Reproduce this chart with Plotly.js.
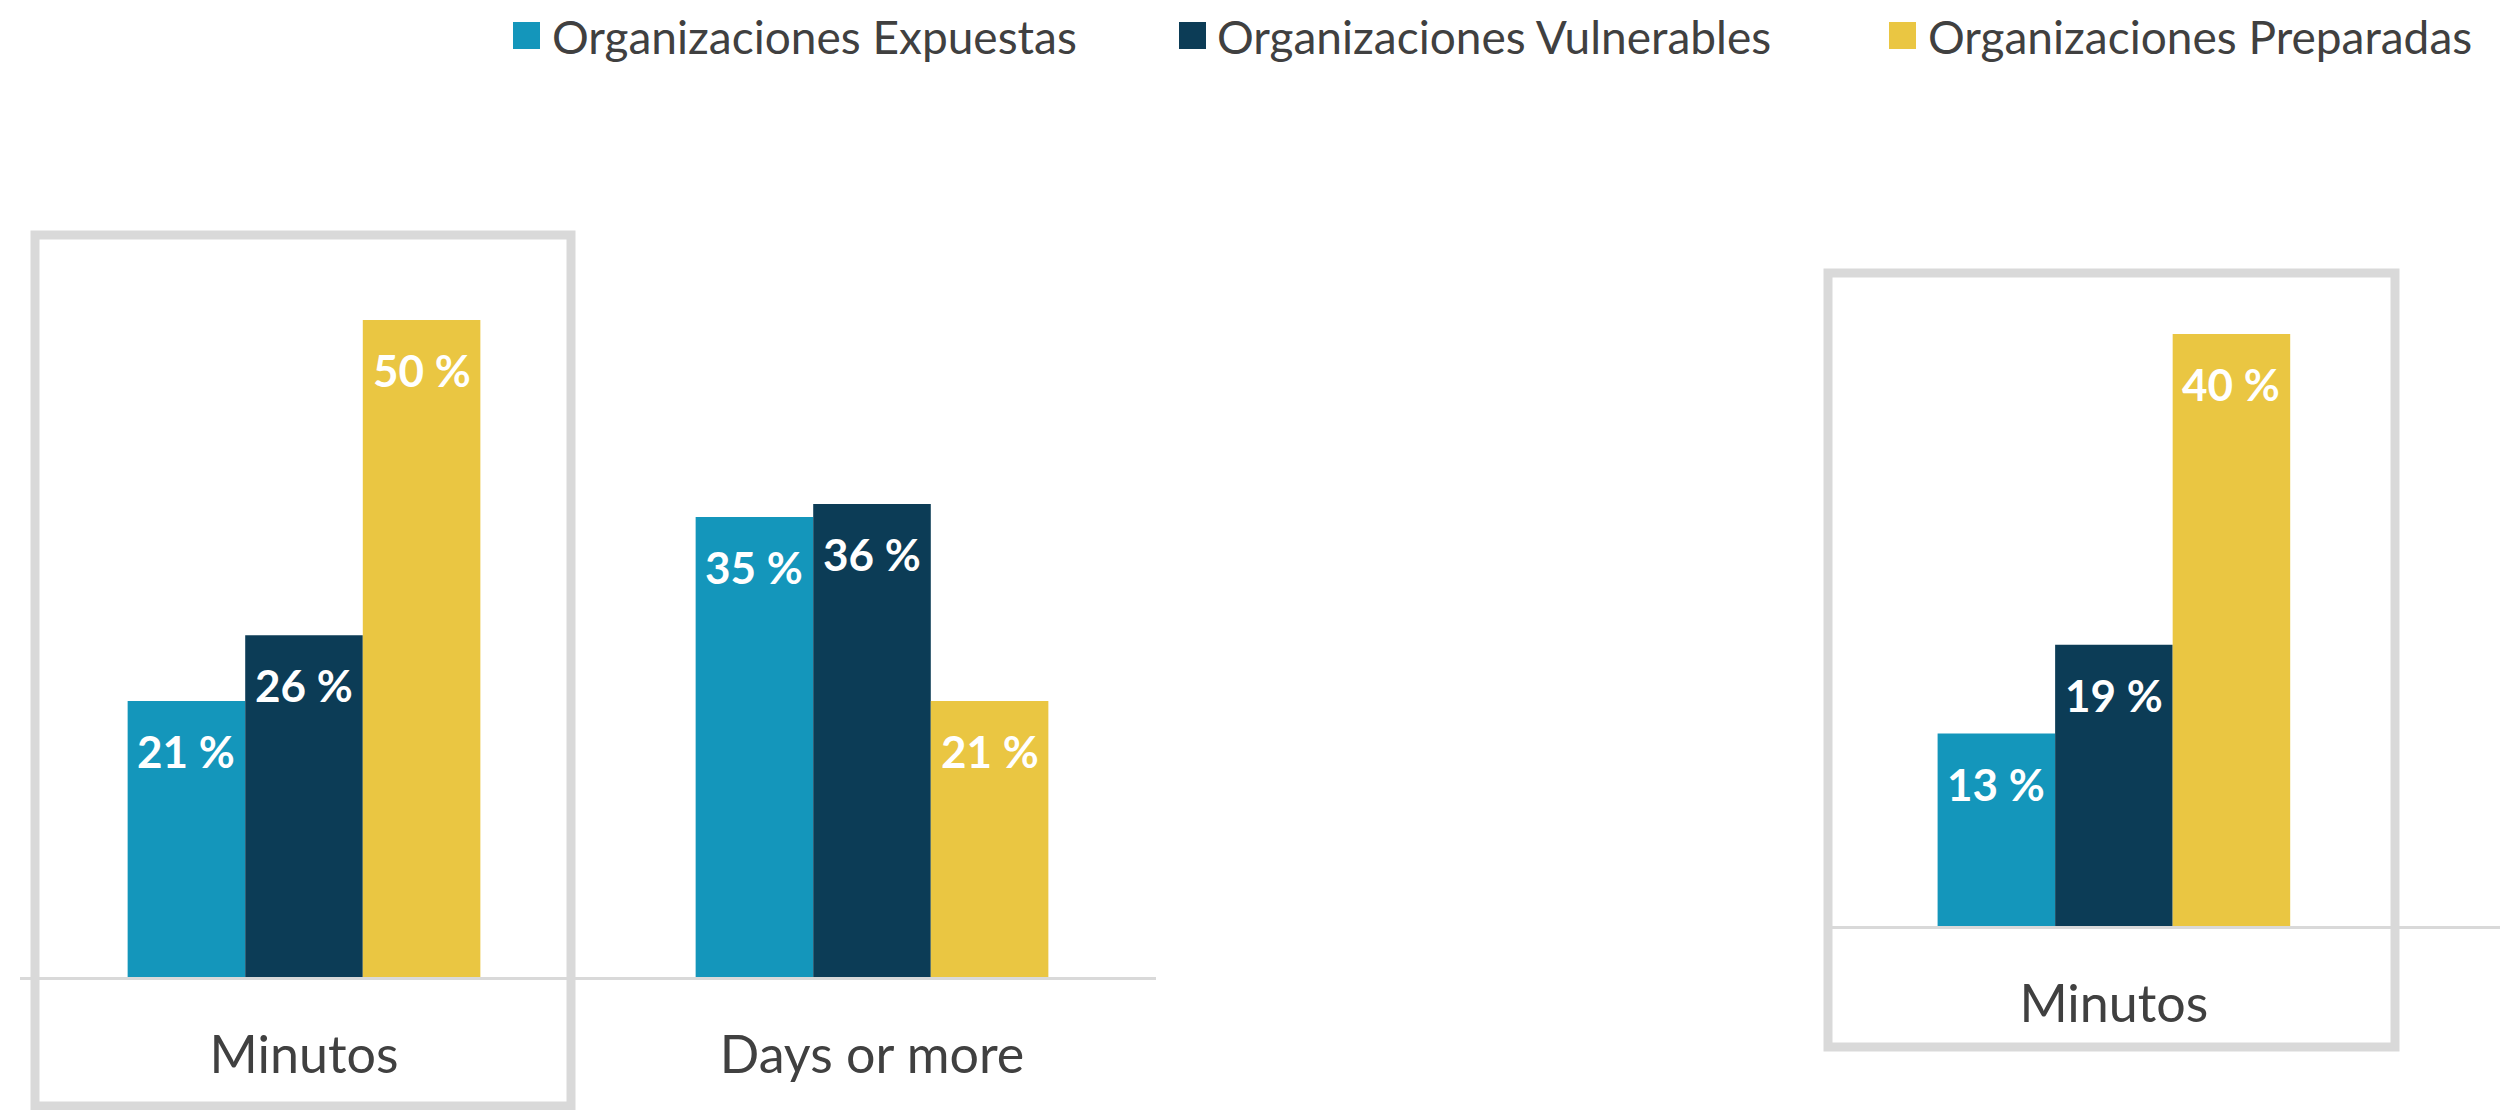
<!DOCTYPE html>
<html>
<head>
<meta charset="utf-8">
<script src="https://cdn.plot.ly/plotly-3.0.1.min.js"></script>
<style>
  html, body { margin: 0; padding: 0; background: #ffffff; }
  #chart { width: 2500px; height: 1110px; }
</style>
</head>
<body>
<div id="chart"></div>
<script>
const W = 2500;
const H = 1110;

const seriesNames = ['Organizaciones Expuestas', 'Organizaciones Vulnerables', 'Organizaciones Preparadas'];
const seriesColors = ['#1496bb', '#0c3c56', '#eac642'];

// left panel
const leftCategories = ['Minutos', 'Days or more'];
const leftExpuestas = [21, 35];
const leftVulnerables = [26, 36];
const leftPreparadas = [50, 21];

// right panel
const rightCategories = ['Minutos'];
const rightExpuestas = [13];
const rightVulnerables = [19];
const rightPreparadas = [40];

const bargap = 0.379;
const textColor = '#404040';
const grey = '#d9d9d9';

// pixel helpers for layout placement
const px = v => v / W;
const py = v => 1 - v / H;

const leftSeries = [leftExpuestas, leftVulnerables, leftPreparadas];
const rightSeries = [rightExpuestas, rightVulnerables, rightPreparadas];

const traces = [];
leftSeries.forEach((vals, i) => {
    traces.push({
        x: leftCategories,
        y: vals,
        type: 'bar',
        name: seriesNames[i],
        marker: { color: seriesColors[i], line: { width: 0 } },
        xaxis: 'x',
        yaxis: 'y',
        hoverinfo: 'skip'
    });
});
rightSeries.forEach((vals, i) => {
    traces.push({
        x: rightCategories,
        y: vals,
        type: 'bar',
        name: seriesNames[i],
        marker: { color: seriesColors[i], line: { width: 0 } },
        xaxis: 'x2',
        yaxis: 'y2',
        hoverinfo: 'skip'
    });
});

// value labels inside the top of every bar
const barW = (1 - bargap) / seriesNames.length;
const annotations = [];
function addLabels(seriesList, xref, yref) {
    seriesList.forEach((vals, i) => {
        const off = (i - (seriesList.length - 1) / 2) * barW;
        vals.forEach((v, c) => {
            annotations.push({
                x: c + off,
                y: v,
                xref: xref,
                yref: yref,
                text: v + ' %',
                showarrow: false,
                yanchor: 'middle',
                xanchor: 'center',
                yshift: -50,
                font: { family: 'Lato', size: 44, color: '#ffffff', weight: 700 }
            });
        });
    });
}
addLabels(leftSeries, 'x', 'y');
addLabels(rightSeries, 'x2', 'y2');

// legend along the top
const legendSquareX = [513, 1179, 1889];
const legendTextX = [550, 1215, 1926];
const shapes = [];
seriesNames.forEach((name, i) => {
    shapes.push({
        type: 'rect', xref: 'paper', yref: 'paper',
        x0: px(legendSquareX[i]), x1: px(legendSquareX[i] + 27),
        y0: py(49), y1: py(22),
        fillcolor: seriesColors[i], line: { width: 0 }
    });
    annotations.push({
        x: px(legendTextX[i]), y: py(36),
        xref: 'paper', yref: 'paper',
        xanchor: 'left', yanchor: 'middle',
        text: name, showarrow: false,
        font: { family: 'Lato', size: 46, color: textColor }
    });
});

// highlight boxes
shapes.push({
    type: 'rect', xref: 'paper', yref: 'paper',
    x0: px(35), x1: px(571), y0: py(1106), y1: py(235),
    line: { color: grey, width: 9 }, layer: 'above'
});
shapes.push({
    type: 'rect', xref: 'paper', yref: 'paper',
    x0: px(1828), x1: px(2395), y0: py(1047), y1: py(273),
    line: { color: grey, width: 9 }, layer: 'above'
});

const axisCommon = {
    type: 'category',
    showline: true,
    linecolor: grey,
    linewidth: 3,
    ticks: '',
    showgrid: false,
    zeroline: false,
    ticklabelstandoff: 31,
    tickfont: { family: 'Lato', size: 52, color: textColor },
    fixedrange: true
};

const layout = {
    width: W,
    height: H,
    margin: { l: 0, r: 0, t: 0, b: 0 },
    paper_bgcolor: '#ffffff',
    plot_bgcolor: 'rgba(0,0,0,0)',
    font: { family: 'Lato', color: textColor },
    barmode: 'group',
    bargap: bargap,
    bargroupgap: 0,
    showlegend: false,
    xaxis: Object.assign({}, axisCommon, {
        domain: [px(20), px(1156)],
        range: [-0.5, 1.5],
        anchor: 'y'
    }),
    yaxis: {
        domain: [133 / H, 1],
        range: [0, 977 / 13.14],
        visible: false,
        fixedrange: true
    },
    xaxis2: Object.assign({}, axisCommon, {
        domain: [px(1830), 1],
        range: [-0.5, 0.68],
        anchor: 'y2'
    }),
    yaxis2: {
        domain: [184 / H, 1],
        range: [0, 926 / 14.8],
        visible: false,
        fixedrange: true
    },
    shapes: shapes,
    annotations: annotations
};

Plotly.newPlot('chart', traces, layout, { displayModeBar: false, staticPlot: true });
</script>
</body>
</html>
